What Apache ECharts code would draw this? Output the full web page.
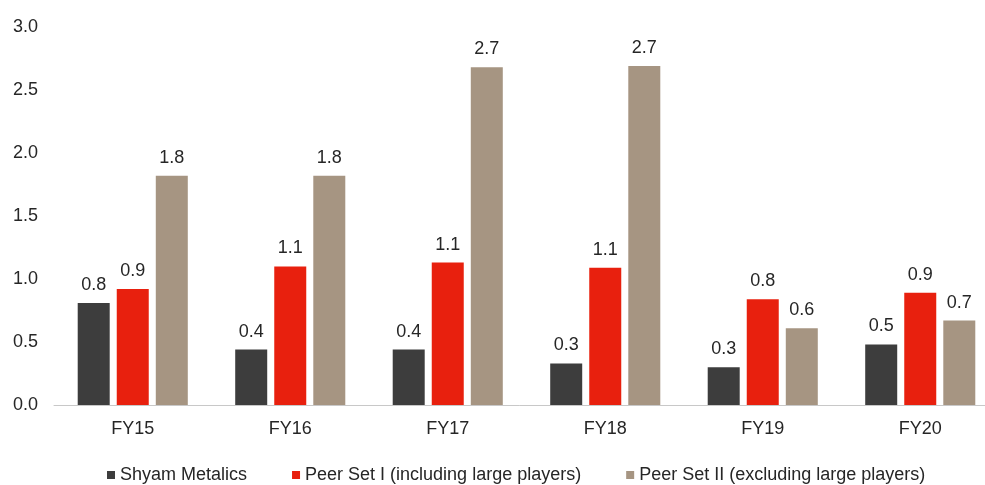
<!DOCTYPE html>
<html>
<head>
<meta charset="utf-8">
<script src="https://cdn.jsdelivr.net/npm/echarts@6/dist/echarts.min.js"></script>
<style>
html,body{margin:0;padding:0;background:#fff;}
#chart{width:985px;height:485px;}
</style>
</head>
<body>
<div id="chart"></div>
<script>
var categories = ['FY15', 'FY16', 'FY17', 'FY18', 'FY19', 'FY20'];
var seriesNames = ['Shyam Metalics', 'Peer Set I (including large players)', 'Peer Set II (excluding large players)'];
var shyam = [0.81, 0.44, 0.44, 0.33, 0.30, 0.48];
var peer1 = [0.92, 1.10, 1.13, 1.09, 0.84, 0.89];
var peer2 = [1.82, 1.82, 2.68, 2.69, 0.61, 0.67];
var yTicks = [0, 0.5, 1.0, 1.5, 2.0, 2.5, 3.0];

var colors = ['#3d3d3d', '#e8200e', '#a69582'];
var font = 'Liberation Sans, Arial, sans-serif';
var textColor = '#262626';

function mk(name, data, color) {
  return {
    name: name,
    type: 'bar',
    data: data,
    barWidth: 32,
    barGap: '22%',
    itemStyle: { color: color },
    label: {
      show: true,
      position: 'top',
      distance: 9,
      fontFamily: font,
      fontSize: 18,
      color: textColor,
      formatter: function (p) { return p.value.toFixed(1); }
    }
  };
}

var chart = echarts.init(document.getElementById('chart'), null, { renderer: 'canvas' });
chart.setOption({
  animation: false,
  backgroundColor: '#ffffff',
  grid: { left: 54, right: -14, top: 27, bottom: 80, containLabel: false, outerBoundsMode: 'none' },
  legend: {
    left: 102,
    top: 461,
    itemWidth: 8,
    itemHeight: 8,
    itemGap: 45,
    icon: 'rect',
    textStyle: { fontFamily: font, fontSize: 18, color: textColor },
    data: seriesNames
  },
  xAxis: {
    type: 'category',
    data: categories,
    axisLine: { lineStyle: { color: '#c8c8c8', width: 1 } },
    axisTick: { show: false },
    axisLabel: { margin: 15, fontFamily: font, fontSize: 18, color: textColor }
  },
  yAxis: {
    type: 'value',
    min: yTicks[0],
    max: yTicks[yTicks.length - 1],
    interval: 0.5,
    axisLine: { show: false },
    axisTick: { show: false },
    splitLine: { show: false },
    axisLabel: {
      margin: 16,
      fontFamily: font,
      fontSize: 18,
      color: textColor,
      formatter: function (v) { return v.toFixed(1); }
    }
  },
  series: [
    mk(seriesNames[0], shyam, colors[0]),
    mk(seriesNames[1], peer1, colors[1]),
    mk(seriesNames[2], peer2, colors[2])
  ]
});
</script>
</body>
</html>
